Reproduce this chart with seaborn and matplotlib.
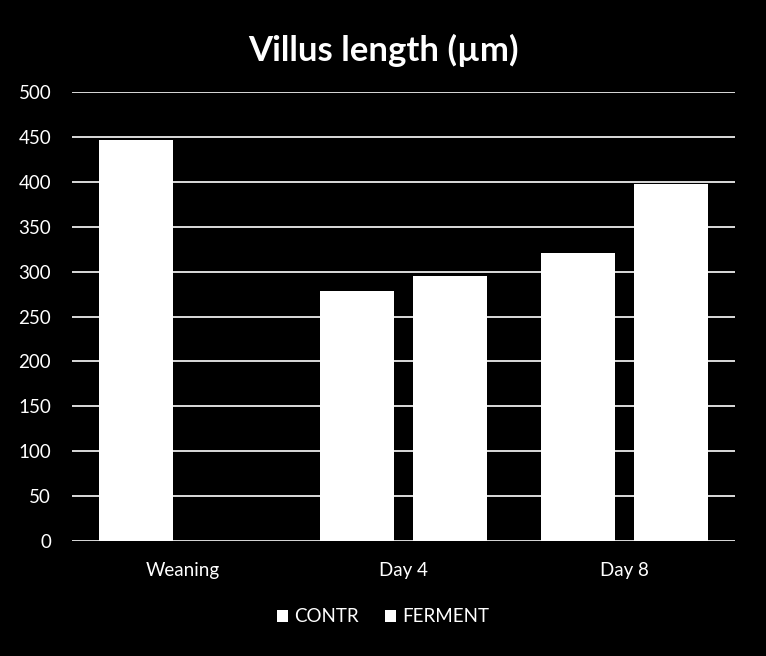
import matplotlib
matplotlib.use("Agg")
import matplotlib.pyplot as plt
import seaborn as sns
import pandas as pd
import numpy as np
from matplotlib.patches import Patch

categories = ["Weaning", "Day 4", "Day 8"]
contr = [447, 278, 321]
ferment = [np.nan, 295, 398]
series = ["CONTR", "FERMENT"]
yticks = list(range(0, 501, 50))

df = pd.DataFrame({
    "cat": categories * 2,
    "val": contr + ferment,
    "series": ["CONTR"] * 3 + ["FERMENT"] * 3,
})

sns.set_style("dark")
plt.rcParams["font.family"] = ["Lato", "DejaVu Sans"]

fig = plt.figure(figsize=(7.66, 6.56), dpi=100, facecolor="black")
ax = fig.add_axes([72 / 766, 1 - 541 / 656, (735 - 72) / 766, (541 - 92) / 656])
ax.set_facecolor("black")

sns.barplot(data=df, x="cat", y="val", hue="series", order=categories,
            hue_order=series, palette=["white", "white"], width=0.84, gap=0.2,
            saturation=1, ax=ax, legend=False, edgecolor="none")

ax.set_ylim(0, 500)
ax.set_xlim(-0.5, 2.5)
ax.set_yticks(yticks)
ax.set_yticklabels([str(t) for t in yticks])
ax.grid(False)
for t in yticks:
    ax.axhline(t, color="white", lw=1.2, zorder=0.5)
for s in ["top", "right", "left", "bottom"]:
    ax.spines[s].set_visible(False)
ax.tick_params(axis="both", length=0, colors="white", labelsize=13.5)
ax.tick_params(axis="y", pad=15)
ax.tick_params(axis="x", pad=15)
for lbl in ax.get_yticklabels() + ax.get_xticklabels():
    lbl.set_color("white")
ax.set_xlabel("")
ax.set_ylabel("")

fig.text(0.5, 1 - 50 / 656, "Villus length (µm)", ha="center", va="center",
         color="white", fontsize=25, fontweight="bold")

handles = [Patch(facecolor="white", edgecolor="none", label=s) for s in series]
fig.legend(handles=handles, loc="center", bbox_to_anchor=(0.5, 1 - 617 / 656),
           ncol=2, frameon=False, fontsize=13.5, labelcolor="white",
           handlelength=0.6, handleheight=0.6, handletextpad=0.3, columnspacing=1.4)

fig.savefig("out.png", dpi=100, facecolor="black")
